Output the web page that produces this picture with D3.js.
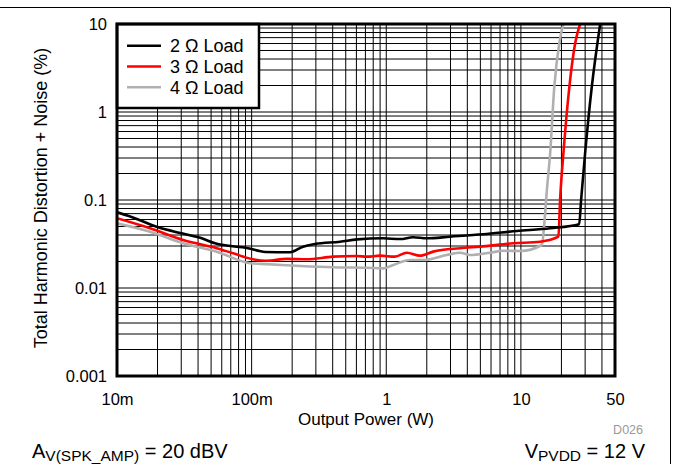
<!DOCTYPE html>
<html>
<head>
<meta charset="utf-8">
<script src="https://cdn.jsdelivr.net/npm/d3@7"></script>
<style>
  body { margin: 0; background: #fff; }
  svg text { font-family: "Liberation Sans", Arial, sans-serif; fill: #000; }
</style>
</head>
<body>
<script>
// THD+N vs output power
const power2 = [0.01, 0.0121, 0.0202, 0.0302, 0.0426, 0.0535, 0.094, 0.126, 0.193, 0.241, 0.296, 0.454, 0.607, 0.946, 1.27, 1.58, 2.0, 2.98, 5.24, 9.33, 16.5, 27.1, 28.0, 30.0, 33.6, 38.8];
const thd2   = [0.0725, 0.0663, 0.049, 0.0418, 0.0367, 0.0322, 0.0283, 0.0257, 0.0255, 0.0295, 0.0316, 0.0336, 0.0357, 0.0367, 0.036, 0.0377, 0.0367, 0.0383, 0.0408, 0.0444, 0.0477, 0.053, 0.1, 0.342, 1.92, 10];

const power3 = [0.01, 0.0176, 0.031, 0.055, 0.0727, 0.102, 0.129, 0.182, 0.257, 0.402, 0.604, 0.717, 0.899, 1.16, 1.42, 1.78, 2.23, 3.53, 4.97, 8.75, 13.9, 19.0, 19.55, 20.7, 22.9, 25.3, 27.5];
const thd3   = [0.062, 0.0477, 0.0351, 0.0283, 0.0248, 0.0212, 0.0204, 0.0214, 0.0212, 0.0227, 0.0231, 0.0227, 0.0233, 0.0227, 0.0252, 0.0233, 0.0259, 0.0283, 0.0295, 0.0322, 0.0336, 0.0383, 0.1, 0.342, 1.92, 6.04, 10];

const power4 = [0.01, 0.0176, 0.0311, 0.055, 0.0973, 0.129, 0.229, 0.402, 0.717, 0.951, 1.13, 1.5, 1.89, 2.81, 3.53, 4.19, 5.9, 7.41, 9.86, 14.3, 15.0, 15.6, 16.5, 17.7, 19.3, 20.7];
const thd4   = [0.0543, 0.0436, 0.0322, 0.0259, 0.0191, 0.0187, 0.0178, 0.0172, 0.017, 0.0167, 0.0183, 0.0208, 0.0208, 0.0237, 0.0252, 0.0237, 0.0252, 0.0265, 0.0263, 0.0308, 0.059, 0.13, 0.342, 1.92, 6.1, 10];

const seriesNames  = ["2 \u03A9 Load", "3 \u03A9 Load", "4 \u03A9 Load"];
const seriesColors = ["#000000", "#ff0000", "#b0b0b0"];

const xTickValues = [0.01, 0.1, 1, 10, 50];
const xTickLabels = ["10m", "100m", "1", "10", "50"];
const yTickValues = [0.001, 0.01, 0.1, 1, 10];
const yTickLabels = ["0.001", "0.01", "0.1", "1", "10"];

let width = 673,
    height = 464;
let plotL = 117, plotR = 615, plotT = 24, plotB = 376;

let svg = d3.select("body").append("svg")
    .attr("width", width)
    .attr("height", height);

// outer figure frame (top + right edges only)
svg.append("path")
    .attr("d", `M0,7.5 H670.5 V${height}`)
    .attr("fill", "none")
    .attr("stroke", "#000")
    .attr("stroke-width", 1);

let x = d3.scaleLog().domain([0.01, 50]).range([plotL, plotR]);
let y = d3.scaleLog().domain([0.001, 10]).range([plotB, plotT]);

        //grid lines at every 1..9 step of each decade
let xGrid = [];
[0.01, 0.1, 1, 10].forEach(d => { for (let k = 1; k <= 9; k++) if (d * k <= 50.0001) xGrid.push(d * k); });
let yGrid = [];
[0.001, 0.01, 0.1, 1].forEach(d => { for (let k = 1; k <= 9; k++) yGrid.push(d * k); });

let grid = svg.append("g").attr("stroke", "#000").attr("stroke-width", 1);
grid.selectAll(".vg").data(xGrid).enter().append("line")
    .attr("x1", d => x(d)).attr("x2", d => x(d))
    .attr("y1", plotT).attr("y2", plotB);
grid.selectAll(".hg").data(yGrid).enter().append("line")
    .attr("x1", plotL).attr("x2", plotR)
    .attr("y1", d => y(d)).attr("y2", d => y(d));

svg.append("clipPath").attr("id", "plotclip")
    .append("rect")
    .attr("x", plotL).attr("y", plotT)
    .attr("width", plotR - plotL).attr("height", plotB - plotT);

let line = d3.line()
    .x(d => x(d[0]))
    .y(d => y(d[1]))
    .curve(d3.curveMonotoneX);

let series = [
    d3.zip(power2, thd2),
    d3.zip(power3, thd3),
    d3.zip(power4, thd4)
];

        //draw 4 ohm first so black ends up on top
svg.append("g").attr("clip-path", "url(#plotclip)")
    .selectAll("path")
    .data(series.map((s, i) => ({ s, i })).reverse())
    .enter()
    .append("path")
        .attr("d", d => line(d.s))
        .attr("fill", "none")
        .attr("stroke", d => seriesColors[d.i])
        .attr("stroke-width", 2.6)
        .attr("stroke-linejoin", "round");

        //legend box
let legend = svg.append("g");
legend.append("rect")
    .attr("x", plotL).attr("y", plotT)
    .attr("width", 142).attr("height", 84)
    .attr("fill", "#fff")
    .attr("stroke", "#000")
    .attr("stroke-width", 2.5);
seriesNames.forEach((name, i) => {
    let ly = 45.7 + i * 20.8;
    legend.append("line")
        .attr("x1", 127).attr("x2", 161)
        .attr("y1", ly).attr("y2", ly)
        .attr("stroke", seriesColors[i])
        .attr("stroke-width", 2.6);
    legend.append("text")
        .attr("x", 170).attr("y", ly + 6.5)
        .style("font-size", "18px")
        .text(name);
});

        //plot frame
svg.append("rect")
    .attr("x", plotL).attr("y", plotT)
    .attr("width", plotR - plotL).attr("height", plotB - plotT)
    .attr("fill", "none")
    .attr("stroke", "#000")
    .attr("stroke-width", 3);

        //axes: labels only
let xAxis = svg.append("g")
    .attr("transform", `translate(0,${plotB})`)
    .call(d3.axisBottom(x)
        .tickValues(xTickValues)
        .tickFormat((d, i) => xTickLabels[i])
        .tickSize(0)
        .tickPadding(17));
let yAxis = svg.append("g")
    .attr("transform", `translate(${plotL},0)`)
    .call(d3.axisLeft(y)
        .tickValues(yTickValues)
        .tickFormat((d, i) => yTickLabels[i])
        .tickSize(0)
        .tickPadding(10));
[xAxis, yAxis].forEach(a => {
    a.select(".domain").remove();
    a.attr("font-family", null).attr("font-size", null);
    a.selectAll("text")
        .style("font-size", "16.5px")
        .attr("fill", "#000");
});

svg.append("text")
    .attr("x", (plotL + plotR) / 2)
    .attr("y", 425)
    .attr("text-anchor", "middle")
    .style("font-size", "17px")
    .text("Output Power (W)");

svg.append("text")
    .attr("transform", `translate(46.5,${(plotT + plotB) / 2 - 2}) rotate(-90)`)
    .attr("text-anchor", "middle")
    .style("font-size", "18px")
    .text("Total Harmonic Distortion + Noise (%)");

svg.append("text")
    .attr("x", 643)
    .attr("y", 434)
    .attr("text-anchor", "end")
    .style("font-size", "12.5px")
    .style("fill", "#999")
    .text("D026");

        //test conditions
let condL = svg.append("text").attr("x", 32).attr("y", 458).style("font-size", "20px");
condL.append("tspan").text("A");
condL.append("tspan").attr("dy", 3).style("font-size", "15.5px").text("V(SPK_AMP)");
condL.append("tspan").attr("dy", -3).text(" = 20 dBV");

let condR = svg.append("text").attr("x", 645).attr("y", 458)
    .attr("text-anchor", "end").style("font-size", "20px");
condR.append("tspan").text("V");
condR.append("tspan").attr("dy", 3).style("font-size", "15.5px").text("PVDD");
condR.append("tspan").attr("dy", -3).text(" = 12 V");
</script>
</body>
</html>
